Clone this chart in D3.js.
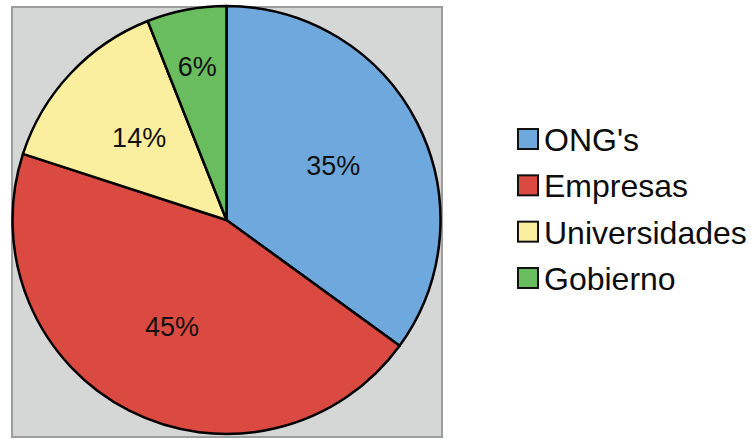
<!DOCTYPE html>
<html>
<head>
<meta charset="utf-8">
<script src="https://cdn.jsdelivr.net/npm/d3@7"></script>
<style>
  html, body { margin: 0; padding: 0; background: #ffffff; }
  svg { display: block; font-family: "Liberation Sans", Arial, sans-serif; }
</style>
</head>
<body>
<svg id="chart" width="751" height="439"></svg>
<script>
// Sectores y su participación (%)
const categories = ["ONG's", "Empresas", "Universidades", "Gobierno"];
const shares = [35, 45, 14, 6];
const colors = ["#6fa8dc", "#db4a41", "#f9ef9f", "#6abd5e"];

const svg = d3.select("#chart");

// Plot frame
const frame = { x: 12, y: 7, w: 430, h: 430 };
svg.append("rect")
  .attr("x", frame.x).attr("y", frame.y)
  .attr("width", frame.w).attr("height", frame.h)
  .attr("fill", "#d5d6d6")
  .attr("stroke", "#9d9d9d")
  .attr("stroke-width", 2);

const cx = 226.5, cy = 220, radius = 214;

const data = categories.map((c, i) => ({ name: c, value: shares[i], color: colors[i] }));

const pie = d3.pie().sort(null).value(d => d.value);
const arcs = pie(data);

const arc = d3.arc().innerRadius(0).outerRadius(radius);

const g = svg.append("g").attr("transform", `translate(${cx},${cy})`);

g.selectAll("path.slice")
  .data(arcs)
  .join("path")
  .attr("class", "slice")
  .attr("d", arc)
  .attr("fill", d => d.data.color)
  .attr("stroke", "#000")
  .attr("stroke-width", 2.5)
  .attr("stroke-linejoin", "round");

// Labels: small slices are pushed further out
const labelArc = d3.arc().innerRadius(radius * 1.12).outerRadius(0);
const smallArc = d3.arc().innerRadius(radius * 1.46).outerRadius(0);

g.selectAll("text.pct")
  .data(arcs)
  .join("text")
  .attr("class", "pct")
  .attr("transform", d => {
    const a = d.data.value < 10 ? smallArc : labelArc;
    const [x, y] = a.centroid(d);
    return `translate(${x},${y})`;
  })
  .attr("text-anchor", "middle")
  .attr("dominant-baseline", "central")
  .attr("font-size", 27)
  .attr("fill", "#111")
  .text(d => d.data.value + "%");

// Legend
const legendY = d3.scalePoint().domain(categories).range([139, 278]);
const legend = svg.append("g");
const items = legend.selectAll("g.item")
  .data(data)
  .join("g")
  .attr("class", "item")
  .attr("transform", d => `translate(517,${legendY(d.name)})`);

items.append("rect")
  .attr("x", 1).attr("y", -10)
  .attr("width", 20).attr("height", 20)
  .attr("fill", d => d.color)
  .attr("stroke", "#111")
  .attr("stroke-width", 2);

items.append("text")
  .attr("x", 27)
  .attr("y", 1)
  .attr("dominant-baseline", "central")
  .attr("font-size", 32)
  .attr("fill", "#0d0d0d")
  .text(d => d.name);
</script>
</body>
</html>
